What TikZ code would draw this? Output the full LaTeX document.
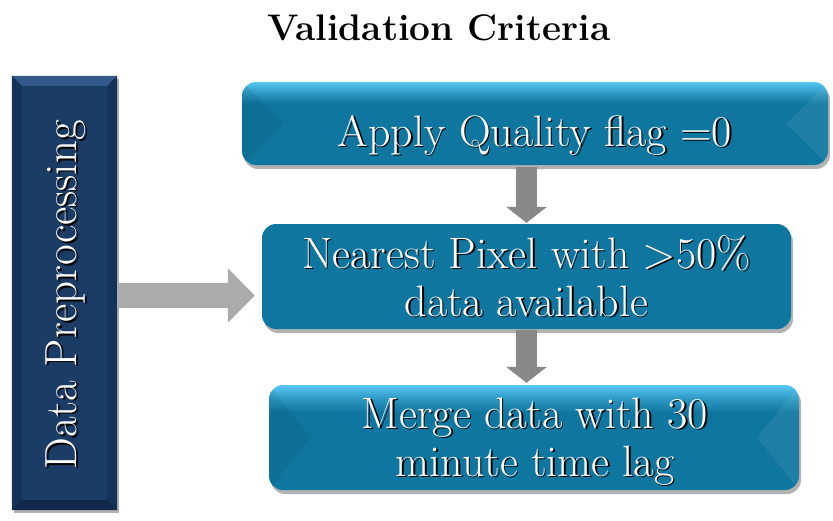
\documentclass[tikz,border=0pt]{standalone}
\usetikzlibrary{arrows.meta,shadows}
\definecolor{navy}{HTML}{1B3D65}
\definecolor{navyL}{HTML}{33598A}
\definecolor{navyD}{HTML}{15335A}
\definecolor{tealF}{HTML}{0F76A0}
\definecolor{tealL}{HTML}{58C8F4}
\definecolor{grayA}{HTML}{ABABAB}
\definecolor{grayB}{HTML}{888888}
\pgfdeclareverticalshading{tealshade}{100bp}{color(0bp)=(tealF); color(62bp)=(tealF); color(69bp)=(tealF!55!tealL); color(75bp)=(tealL); color(100bp)=(tealL)}
\tikzset{
  boxbase/.style={rectangle, rounded corners=14pt, inner sep=0pt, draw=none,
    drop shadow={shadow xshift=2pt, shadow yshift=-4pt, opacity=0.3, fill=black}},
  glossbox/.style={boxbase, shading=tealshade},
  flatbox/.style={boxbase, fill=tealF},
  lefttxt/.style={text=white, font=\fontsize{44}{48}\selectfont, align=center, inner sep=0pt},
  txtshadow/.style={lefttxt, text=black},
  harrow/.style={draw=grayA, line width=25pt, -{Triangle[length=27pt,width=53pt]}},
  varrow/.style={draw=grayB, line width=21pt, -{Triangle[length=16pt,width=40pt]}},
  bevel/.pic={}
}
\newcommand{\sidebevel}[1]{%
  \begin{scope}
    \clip[rounded corners=14pt] (#1.north west) rectangle (#1.south east);
    \fill[white, opacity=0.07] (#1.north east) -- ([xshift=-42pt]#1.east) -- (#1.south east) -- cycle;
    \fill[black, opacity=0.06] (#1.north west) -- ([xshift=42pt]#1.west) -- (#1.south west) -- cycle;
  \end{scope}}
\begin{document}
\begin{tikzpicture}[x=1pt,y=-1pt]
\useasboundingbox (0,0) rectangle (833,520);
% title
\node[font=\fontsize{37}{44}\selectfont\bfseries, anchor=base] (title) at (439,40) {Validation Criteria};
% left box
\node[rectangle, fill=navy, minimum width=105pt, minimum height=434pt, inner sep=0pt,
  drop shadow={shadow xshift=2pt, shadow yshift=-3pt, opacity=0.3, fill=black}] (lp) at (64.5,293) {};
\fill[navyL] (lp.north west) -- (lp.north east) -- ([xshift=-10pt,yshift=-10pt]lp.north east) -- ([xshift=10pt,yshift=-10pt]lp.north west) -- cycle;
\fill[navyD] (lp.north west) -- ([xshift=10pt,yshift=-10pt]lp.north west) -- ([xshift=10pt,yshift=10pt]lp.south west) -- (lp.south west) -- cycle;
\fill[navyD] (lp.north east) -- ([xshift=-10pt,yshift=-10pt]lp.north east) -- ([xshift=-10pt,yshift=10pt]lp.south east) -- (lp.south east) -- cycle;
\fill[navyD!80!black] (lp.south west) -- ([xshift=10pt,yshift=10pt]lp.south west) -- ([xshift=-10pt,yshift=10pt]lp.south east) -- (lp.south east) -- cycle;
\node[txtshadow, font=\fontsize{45}{48}\selectfont, rotate=90] (lpts) at (67.5,296.5) {Data Preprocessing};
\node[lefttxt, font=\fontsize{45}{48}\selectfont, rotate=90] (lpt) at (66,295) {Data Preprocessing};
% boxes
\node[glossbox, minimum width=586pt, minimum height=83pt] (b1) at (535,123.5) {};
\sidebevel{b1}
\node[flatbox, minimum width=529pt, minimum height=105pt] (b2) at (526.5,276.5) {};
\node[glossbox, minimum width=530pt, minimum height=105pt] (b3) at (534,437.5) {};
\sidebevel{b3}
% arrows
\draw[harrow, shorten >=7pt] (lp.east |- 0,295.5) -- (b2.west |- 0,295.5);
\draw[varrow, shorten <=2pt, shorten >=1pt] (b2.north |- b1.south) -- (b2.north);
\draw[varrow, shorten <=1pt, shorten >=2pt] (b2.south) -- (b2.south |- b3.north);
% texts
\node[txtshadow, anchor=base] (b1ts) at (536.5,147.5) {Apply Quality flag =0};
\node[lefttxt, anchor=base] (b1t) at (535,146) {Apply Quality flag =0};
\node[txtshadow, anchor=base] (b2ts) at (528,317.5) {Nearest Pixel with >50\%\\data available};
\node[lefttxt, anchor=base] (b2t) at (526.5,316) {Nearest Pixel with >50\%\\data available};
\node[txtshadow, anchor=base] (b3ts) at (536.5,477.5) {Merge data with 30\\minute time lag};
\node[lefttxt, anchor=base] (b3t) at (535,476) {Merge data with 30\\minute time lag};
\end{tikzpicture}
\end{document}
